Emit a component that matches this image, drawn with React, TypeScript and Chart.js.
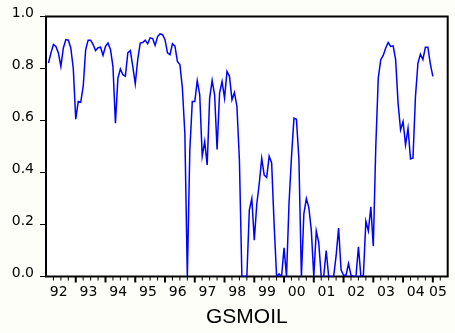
import React, { useEffect, useRef } from "react";
import { Chart, registerables } from "chart.js";

Chart.register(...registerables);

// Monthly series, first observation 1992:02, last 2005:01
const START_YEAR = 1992;
const START_MONTH = 2;
const gsmoil = [
  0.821, 0.86, 0.892, 0.885, 0.86, 0.808, 0.879, 0.911, 0.909, 0.879, 0.8,
  0.605, 0.673, 0.67, 0.731, 0.873, 0.909, 0.909, 0.892, 0.869, 0.88, 0.882, 0.851,
  0.885, 0.898, 0.873, 0.808, 0.59, 0.763, 0.798, 0.776, 0.77, 0.86, 0.869, 0.808,
  0.741, 0.835, 0.898, 0.9, 0.909, 0.895, 0.918, 0.915, 0.889, 0.923, 0.933, 0.93,
  0.911, 0.86, 0.853, 0.895, 0.886, 0.827, 0.815, 0.725, 0.55, 0.0, 0.486, 0.673,
  0.673, 0.753, 0.699, 0.463, 0.519, 0.429, 0.686, 0.754, 0.699, 0.489, 0.705, 0.75,
  0.686, 0.789, 0.77, 0.68, 0.708, 0.654, 0.448, 0.0, 0.0, 0.0, 0.255, 0.3,
  0.14, 0.278, 0.358, 0.454, 0.39, 0.381, 0.463, 0.437, 0.2, 0.0, 0.01, 0.0,
  0.11, 0.0, 0.28, 0.46, 0.609, 0.605, 0.45, 0.0, 0.242, 0.3, 0.265, 0.178,
  0.0, 0.175, 0.13, 0.0, 0.0, 0.1, 0.0, 0.0, 0.0, 0.08, 0.186, 0.026,
  0.005, 0.005, 0.05, 0.005, 0.0, 0.0, 0.114, 0.0, 0.005, 0.213, 0.175, 0.268,
  0.117, 0.5, 0.763, 0.834, 0.85, 0.879, 0.9, 0.885, 0.887, 0.834, 0.665, 0.564,
  0.596, 0.506, 0.57, 0.452, 0.456, 0.692, 0.821, 0.855, 0.834, 0.882, 0.882, 0.818,
  0.77,
];

// Workfile range 1992:01 - 2005:06
const X_MIN = 1992;
const X_MAX = 2005.5;
const yearLabels = ["92", "93", "94", "95", "96", "97", "98", "99", "00", "01", "02", "03", "04", "05"];
const yTicks = [0, 0.2, 0.4, 0.6, 0.8, 1.0];
const axisTitle = "GSMOIL";

// Centre of each year's months that fall inside the range
function yearLabelPosition(j: number): number {
  const year = START_YEAR + j;
  const lastMonth = Math.min(11, Math.round((X_MAX - year) * 12) - 1);
  return year + lastMonth / 2 / 12;
}

const frame = {
  id: "frame",
  beforeDraw(chart: any) {
    const { ctx, chartArea: a, width, height } = chart;
    ctx.save();
    ctx.fillStyle = "#fefef9";
    ctx.fillRect(0, 0, width, height);
    ctx.fillStyle = "#ffffff";
    ctx.fillRect(a.left, a.top, a.right - a.left, a.bottom - a.top);
    ctx.restore();
  },
  beforeDatasetsDraw(chart: any) {
    const { ctx, chartArea: a } = chart;
    const x = chart.scales.x;
    ctx.save();
    ctx.strokeStyle = "#000";
    ctx.lineWidth = 2;
    ctx.strokeRect(a.left, a.top, a.right - a.left, a.bottom - a.top);
    // quarterly tick marks below the time axis, longer at year starts
    for (let q = Math.ceil(X_MIN * 4) + 1; q <= Math.floor(X_MAX * 4); q++) {
      const px = x.getPixelForValue(q / 4);
      if (px >= a.right - 1) continue;
      const major = q % 4 === 0;
      ctx.lineWidth = major ? 2 : 1;
      ctx.beginPath();
      ctx.moveTo(px, a.bottom);
      ctx.lineTo(px, a.bottom + (major ? 6 : 4));
      ctx.stroke();
    }
    ctx.restore();
  },
};

export default function App() {
  const ref = useRef<HTMLCanvasElement>(null);

  useEffect(() => {
    if (!ref.current) return;
    const points = gsmoil.map((v, k) => ({
      x: START_YEAR + (START_MONTH - 1 + k) / 12,
      y: v,
    }));
    const chart = new Chart(ref.current, {
      type: "line",
      data: {
        datasets: [
          {
            data: points,
            borderColor: "#0000ff",
            borderWidth: 1.5,
            pointRadius: 0,
            tension: 0,
            fill: false,
          },
        ],
      },
      options: {
        animation: false,
        responsive: false,
        events: [],
        layout: { padding: { left: 0, right: 3.5, top: 16.5, bottom: 0 } },
        plugins: { legend: { display: false }, tooltip: { enabled: false } },
        scales: {
          x: {
            type: "linear",
            min: X_MIN,
            max: X_MAX,
            afterFit: (s: any) => {
              s.height = 56.5;
            },
            afterBuildTicks: (s: any) => {
              s.ticks = yearLabels.map((_, j) => ({ value: yearLabelPosition(j) }));
            },
            grid: { display: false, drawTicks: false, tickLength: 0 },
            border: { display: false },
            ticks: {
              autoSkip: false,
              maxRotation: 0,
              padding: 7,
              labelOffset: -1,
              color: "#000",
              font: { family: "DejaVu Sans", size: 14 },
              callback: (_v: any, i: number) => yearLabels[i],
            },
            title: {
              display: true,
              text: axisTitle,
              color: "#000",
              font: { family: "Liberation Sans", size: 21 },
              padding: { top: 0, bottom: 3 },
            },
          },
          y: {
            min: 0,
            max: 1,
            afterFit: (s: any) => {
              s.width = 46;
            },
            afterBuildTicks: (s: any) => {
              s.ticks = yTicks.map((v) => ({ value: v }));
            },
            grid: {
              display: true,
              drawOnChartArea: false,
              drawTicks: true,
              tickLength: 6,
              color: "#000",
              lineWidth: 1,
            },
            border: { display: false },
            ticks: {
              padding: 6,
              labelOffset: -3,
              color: "#000",
              font: { family: "DejaVu Sans", size: 14 },
              callback: (v: any) => Number(v).toFixed(1),
            },
          },
        },
      },
      plugins: [frame],
    });
    return () => chart.destroy();
  }, []);

  return (
    <div style={{ position: "absolute", left: 0, top: 0, width: 455, height: 333 }}>
      <canvas ref={ref} width={455} height={333} style={{ display: "block" }} />
    </div>
  );
}
